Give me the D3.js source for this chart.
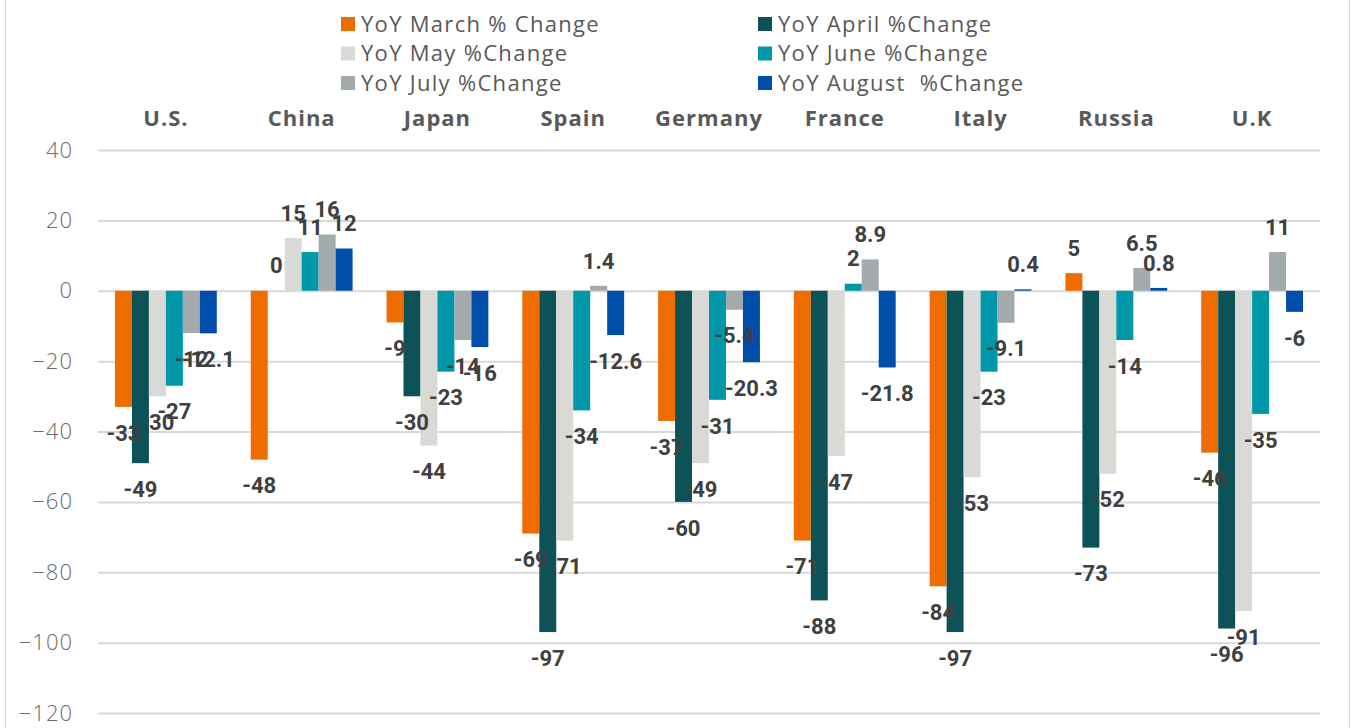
<!DOCTYPE html>
<html>
<head>
<meta charset="utf-8">
<script src="https://cdnjs.cloudflare.com/ajax/libs/d3/7.8.5/d3.min.js"></script>
<style>
  body { margin: 0; background: #fff; }
  svg { display: block; }
</style>
</head>
<body>
<script>
// Data
var countries = ['U.S.', 'China', 'Japan', 'Spain', 'Germany', 'France', 'Italy', 'Russia', 'U.K'];
var seriesNames = ['YoY March % Change', 'YoY April %Change', 'YoY May %Change', 'YoY June %Change', 'YoY July %Change', 'YoY August  %Change'];
var march  = [-33, -48, -9, -69, -37, -71, -84, 5, -46];
var april  = [-49, 0, -30, -97, -60, -88, -97, -73, -96];
var may    = [-30, 15, -44, -71, -49, -47, -53, -52, -91];
var june   = [-27, 11, -23, -34, -31, 2, -23, -14, -35];
var july   = [-12, 16, -14, 1.4, -5.4, 8.9, -9.1, 6.5, 11];
var august = [-12.1, 12, -16, -12.6, -20.3, -21.8, 0.4, 0.8, -6];
var yTicks = [40, 20, 0, -20, -40, -60, -80, -100, -120];

var seriesValues = [march, april, may, june, july, august];
var colors = ['#EF6C00', '#0D5257', '#D9D9D6', '#0097A9', '#A2AAAD', '#004EAA'];

// Layout
var width = 1351, height = 728;
var plot = { left: 98, right: 1320, top: 150, bottom: 713 };

var svg = d3.select('body').append('svg')
    .attr('width', width)
    .attr('height', height);

// frame edges
svg.append('line').attr('x1', 5.5).attr('x2', 5.5).attr('y1', 0).attr('y2', height)
    .attr('stroke', '#D9D9D9').attr('stroke-width', 1);
svg.append('line').attr('x1', 1349.5).attr('x2', 1349.5).attr('y1', 0).attr('y2', height)
    .attr('stroke', '#D9D9D9').attr('stroke-width', 1);

// Scales
var x0 = d3.scaleBand()
    .domain(countries)
    .range([plot.left, plot.right])
    .paddingInner(0.25)
    .paddingOuter(0.125);
var x1 = d3.scaleBand()
    .domain(d3.range(seriesNames.length))
    .range([0, x0.bandwidth()]);
var y = d3.scaleLinear()
    .domain([-120, 40])
    .range([plot.bottom, plot.top]);

// Gridlines + y labels
var yAxis = d3.axisLeft(y)
    .tickValues(yTicks)
    .tickSize(-(plot.right - plot.left))
    .tickPadding(25);
var gy = svg.append('g')
    .attr('transform', 'translate(' + plot.left + ',0)')
    .call(yAxis);
gy.select('.domain').remove();
gy.selectAll('.tick line')
    .attr('stroke', '#D9D9D9')
    .attr('stroke-width', 2);
gy.selectAll('.tick text')
    .attr('fill', '#6b6b6b')
    .style('font-family', '"Open Sans", sans-serif')
    .style('font-weight', 300)
    .style('font-size', '22px')
    .style('letter-spacing', '1px');

// Category labels at the top
var xAxis = d3.axisTop(x0).tickSize(0).tickPadding(0);
var gx = svg.append('g')
    .attr('transform', 'translate(0,' + 126 + ')')
    .call(xAxis);
gx.select('.domain').remove();
gx.selectAll('.tick text')
    .attr('fill', '#595959')
    .style('font-family', '"Open Sans", sans-serif')
    .style('font-weight', 700)
    .style('font-size', '22px')
    .style('letter-spacing', '1px');

// Bars
var rows = [];
countries.forEach(function(c, ci) {
    seriesValues.forEach(function(vals, si) {
        rows.push({ country: c, series: si, value: vals[ci] });
    });
});

var bars = svg.append('g');
bars.selectAll('rect')
    .data(rows)
    .enter()
  .append('rect')
    .attr('x', function(d) { return x0(d.country) + x1(d.series); })
    .attr('y', function(d) { return y(Math.max(0, d.value)); })
    .attr('width', x1.bandwidth())
    .attr('height', function(d) { return Math.abs(y(d.value) - y(0)); })
    .attr('fill', function(d) { return colors[d.series]; });

// Data labels
svg.append('g').selectAll('text')
    .data(rows)
    .enter()
  .append('text')
    .attr('x', function(d) { return x0(d.country) + x1(d.series) + x1.bandwidth() / 2; })
    .attr('y', function(d) { return d.value >= 0 ? y(d.value) - 25 : y(d.value) + 26; })
    .attr('dy', '0.35em')
    .attr('text-anchor', 'middle')
    .attr('fill', '#404040')
    .style('font-family', 'Roboto, sans-serif')
    .style('font-weight', 700)
    .style('font-size', '22px')
    .text(function(d) { return d.value; });

// Legend (two columns)
var legend = svg.append('g').selectAll('g')
    .data(seriesNames)
    .enter()
  .append('g')
    .attr('transform', function(d, i) {
        var col = i % 2, row = Math.floor(i / 2);
        return 'translate(' + (col === 0 ? 341 : 758) + ',' + (24 + row * 29.5) + ')';
    });
legend.append('rect')
    .attr('x', 0)
    .attr('y', -7)
    .attr('width', 14)
    .attr('height', 14)
    .attr('fill', function(d, i) { return colors[i]; });
legend.append('text')
    .attr('x', 20)
    .attr('dy', '0.35em')
    .attr('fill', '#595959')
    .style('font-family', '"Open Sans", sans-serif')
    .style('font-size', '22px')
    .style('letter-spacing', '1.3px')
    .style('white-space', 'pre')
    .text(function(d) { return d; });
</script>
</body>
</html>
